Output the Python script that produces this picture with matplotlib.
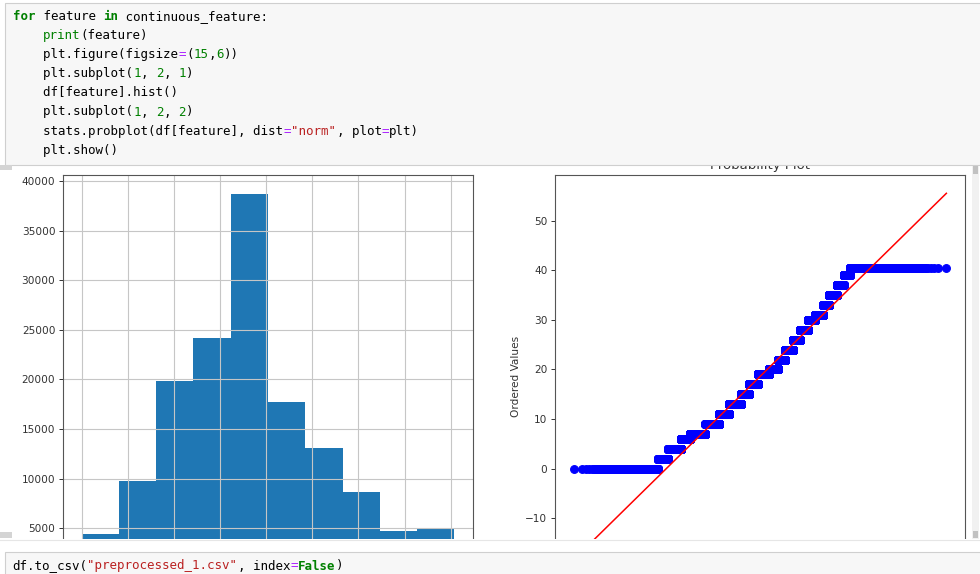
import statistics
import numpy as np
import matplotlib
matplotlib.use("Agg")
from matplotlib import pyplot as plt
from matplotlib.patches import Rectangle

# distinct values of the feature and how often each occurs
levels = [0, 2, 4, 6, 7, 9, 11, 13, 15, 17, 19, 20, 22, 24, 26, 28, 30, 31, 33, 35, 37, 39, 40.4]
counts = [1115, 1010, 2325, 2625, 7175, 9805, 10065, 13005, 11195, 12115, 14460, 12085,
          8380, 9310, 6725, 6395, 4435, 4225, 2350, 2350, 1550, 1045, 2375]
hist_yticks = [5000, 10000, 15000, 20000, 25000, 30000, 35000, 40000]

code_lines = [
    [("for", "kw"), (" feature ", ""), ("in", "kw"), (" continuous_feature:", "")],
    [("    ", ""), ("print", "bi"), ("(feature)", "")],
    [("    plt.figure(figsize", ""), ("=", "op"), ("(", ""), ("15", "num"), (",", ""), ("6", "num"), ("))", "")],
    [("    plt.subplot(", ""), ("1", "num"), (", ", ""), ("2", "num"), (", ", ""), ("1", "num"), (")", "")],
    [("    df[feature].hist()", "")],
    [("    plt.subplot(", ""), ("1", "num"), (", ", ""), ("2", "num"), (", ", ""), ("2", "num"), (")", "")],
    [("    stats.probplot(df[feature], dist", ""), ("=", "op"), ('"norm"', "str"),
     (", plot", ""), ("=", "op"), ("plt)", "")],
    [("    plt.show()", "")],
]
bottom_line = [("df.to_csv(", ""), ('"preprocessed_1.csv"', "str"), (", index", ""),
               ("=", "op"), ("False", "kw"), (")", "")]

styles = {
    "": dict(color="#000000"),
    "kw": dict(color="#008000", fontweight="bold"),
    "bi": dict(color="#008000"),
    "num": dict(color="#008000"),
    "op": dict(color="#aa22ff"),
    "str": dict(color="#ba2121"),
}

W, H = 980, 574
fig = plt.figure(figsize=(W / 100, H / 100), dpi=100)
fig.patch.set_facecolor("white")


def px_axes(x0, y0, x1, y1):
    # pixel box (y from top) -> figure fraction
    return [x0 / W, (H - y1) / H, (x1 - x0) / W, (y1 - y0) / H]


tick_fs = 7.6
txt_col = "#333333"

# ---- histogram
ax1 = fig.add_axes(px_axes(63, 175, 473, 578))
ax1.hist(levels, bins=10, weights=counts, color="#1f77b4")
ax1.set_yticks(hist_yticks)
ax1.grid(True, color="#c6c6c6", linewidth=0.8)
ax1.tick_params(labelsize=tick_fs, colors=txt_col, length=3, width=0.7, pad=2.5)
ax1.tick_params(axis="x", labelbottom=False)  # below the visible area anyway
for s in ax1.spines.values():
    s.set_color("#555555")
    s.set_linewidth(0.8)

# ---- probability plot (same steps as scipy.stats.probplot)
osr = np.repeat(np.array(levels, dtype=float), counts)
n = len(osr)
m = (np.arange(1, n + 1) - 0.3175) / (n + 0.365)
m[-1] = 0.5 ** (1.0 / n)
m[0] = 1 - m[-1]
nd = statistics.NormalDist()
osm = np.array([nd.inv_cdf(p) for p in m])
slope, intercept = np.polyfit(osm, osr, 1)

ax2 = fig.add_axes(px_axes(555, 175, 965, 578))
ax2.plot(osm, osr, "bo", markersize=5.6, markeredgewidth=0.8)
ax2.plot(osm, slope * osm + intercept, "r-", linewidth=1.1)
ax2.set_title("Probability Plot", fontsize=9.5, color=txt_col, pad=4.5)
ax2.set_ylabel("Ordered Values", fontsize=tick_fs, color=txt_col, labelpad=3)
ax2.tick_params(labelsize=tick_fs, colors=txt_col, length=3, width=0.7, pad=2.5)
ax2.tick_params(axis="x", labelbottom=False)
for s in ax2.spines.values():
    s.set_color("#555555")
    s.set_linewidth(0.8)

# ---- notebook chrome drawn on top
ov = fig.add_axes([0, 0, 1, 1], zorder=10)
ov.set_xlim(0, W)
ov.set_ylim(H, 0)
ov.axis("off")

ov.add_patch(Rectangle((0, 0), W, 165, facecolor="white", edgecolor="none"))
ov.add_patch(Rectangle((5, 3), W, 162, facecolor="#f7f7f7", edgecolor="#cfcfcf", linewidth=0.8))
ov.add_patch(Rectangle((0, 539), W, 40, facecolor="white", edgecolor="none"))
ov.plot([0, W], [539.5, 539.5], color="#e6e6e6", linewidth=0.8)
ov.add_patch(Rectangle((5, 552), W, 30, facecolor="#f7f7f7", edgecolor="#cfcfcf", linewidth=0.8))

# scroll bits
ov.add_patch(Rectangle((972, 166), 7, 373, facecolor="#f1f1f1", edgecolor="none"))
ov.add_patch(Rectangle((973, 166), 5, 8, facecolor="#c1c1c1", edgecolor="none"))
ov.add_patch(Rectangle((973, 531), 5, 7, facecolor="#c1c1c1", edgecolor="none"))
ov.add_patch(Rectangle((0, 165), 12, 5, facecolor="#d4d4d4", edgecolor="none"))
ov.add_patch(Rectangle((0, 532), 12, 6, facecolor="#d4d4d4", edgecolor="none"))

code_fs = 9
cw = code_fs * 100 / 72 * 0.6021


def draw_code(tokens, x0, y):
    col = 0
    for text, kind in tokens:
        ov.text(x0 + col * cw, y, text, family="DejaVu Sans Mono", fontsize=code_fs,
                va="center", ha="left", **styles[kind])
        col += len(text)


for i, line in enumerate(code_lines):
    draw_code(line, 13, 16.5 + i * 19.1)
draw_code(bottom_line, 12, 566)

fig.savefig("out.png", dpi=100)
